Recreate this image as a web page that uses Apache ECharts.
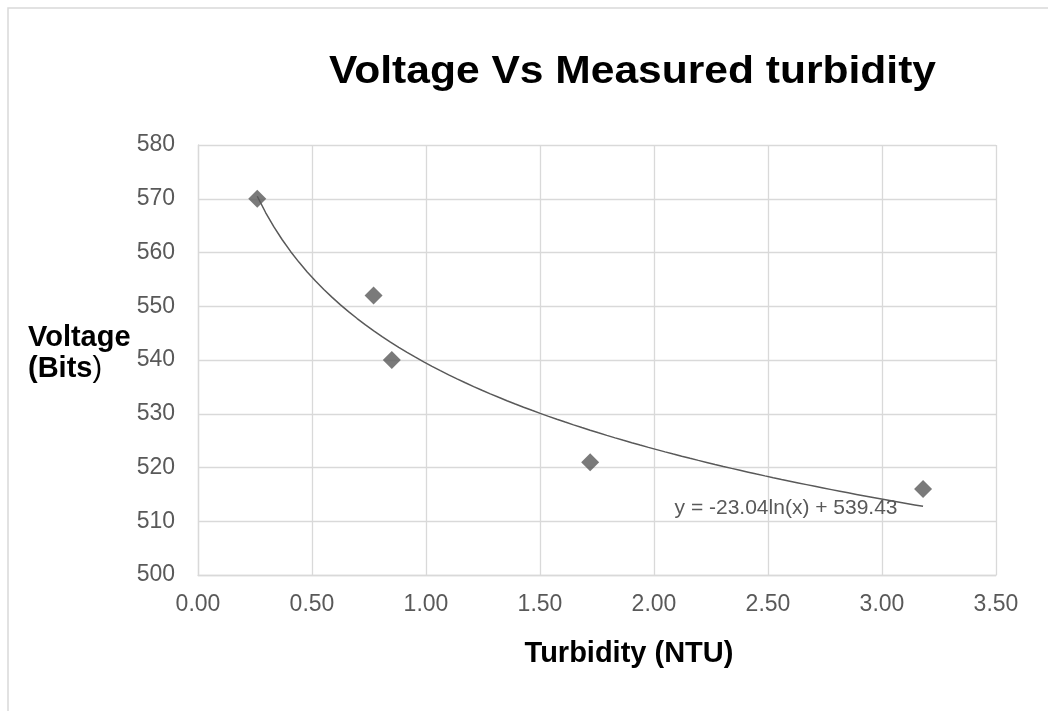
<!DOCTYPE html>
<html>
<head>
<meta charset="utf-8">
<title>Voltage Vs Measured turbidity</title>
<script src="https://cdn.jsdelivr.net/npm/echarts@6/dist/echarts.min.js"></script>
<style>
  html, body { margin: 0; padding: 0; background: #fff; }
  #chart { width: 1048px; height: 711px; }
</style>
</head>
<body>
<div id="chart"></div>
<script>
// measured points
var turbidity = [0.26, 0.77, 0.85, 1.72, 3.18]
var voltage = [570, 552, 540, 521, 516]

// log trendline as printed on the chart: y = -23.04ln(x) + 539.43
var trendA = -23.04
var trendB = 539.43
var trendLabel = 'y = -23.04ln(x) + 539.43'

var xTicks = { min: 0, max: 3.5, step: 0.5 }
var yTicks = { min: 500, max: 580, step: 10 }

var grey = '#595959'
var gridGrey = '#d9d9d9'
var font = '"Liberation Sans", Arial, sans-serif'

var points = turbidity.map(function (x, i) { return [x, voltage[i]] })

// trendline drawn between the first and last measured x
var x0 = turbidity[0]
var x1 = turbidity[turbidity.length - 1]
var trend = []
for (var i = 0; i <= 80; i++) {
  var x = x0 + (x1 - x0) * i / 80
  trend.push([x, trendA * Math.log(x) + trendB])
}

var chart = echarts.init(document.getElementById('chart'))
chart.setOption({
  backgroundColor: '#fff',
  animation: false,
  textStyle: { fontFamily: font },
  grid: { left: 198, right: 52, top: 145, bottom: 136 },
  xAxis: {
    type: 'value',
    min: xTicks.min,
    max: xTicks.max,
    interval: xTicks.step,
    axisLine: { show: true, lineStyle: { color: gridGrey, width: 1.3 } },
    axisTick: { show: false },
    splitLine: { show: true, lineStyle: { color: gridGrey, width: 1.3 } },
    axisLabel: {
      color: grey,
      fontSize: 23,
      margin: 18,
      formatter: function (v) { return v.toFixed(2) }
    }
  },
  yAxis: {
    type: 'value',
    min: yTicks.min,
    max: yTicks.max,
    interval: yTicks.step,
    axisLine: { show: true, lineStyle: { color: gridGrey, width: 1.3 } },
    axisTick: { show: false },
    splitLine: { show: true, lineStyle: { color: gridGrey, width: 1.3 } },
    axisLabel: { color: grey, fontSize: 23, margin: 23 }
  },
  graphic: [
    {
      // outer chart-area border (only top and left are inside the picture)
      type: 'rect',
      shape: { x: 8, y: 8, width: 1200, height: 900 },
      style: { fill: 'none', stroke: gridGrey, lineWidth: 1.5 },
      silent: true
    },
    {
      type: 'text',
      x: 632.5,
      y: 73,
      scaleX: 1.12,
      style: {
        text: 'Voltage Vs Measured turbidity',
        x: 0,
        y: 0,
        textAlign: 'center',
        textVerticalAlign: 'middle',
        font: 'bold 38px ' + font,
        fill: '#000'
      }
    },
    {
      type: 'text',
      x: 629,
      y: 654,
      style: {
        text: 'Turbidity (NTU)',
        textAlign: 'center',
        textVerticalAlign: 'middle',
        font: 'bold 29px ' + font,
        fill: '#000'
      }
    },
    {
      type: 'text',
      left: 28,
      top: 323,
      style: {
        text: '{b|Voltage}\n{b|(Bits}{n|)}',
        fill: '#000',
        rich: {
          b: { fontFamily: font, fontSize: 29, fontWeight: 'bold', lineHeight: 31, fill: '#000' },
          n: { fontFamily: font, fontSize: 29, fontWeight: 'normal', lineHeight: 31, fill: '#000' }
        }
      }
    }
  ],
  series: [
    {
      name: 'trend',
      type: 'line',
      data: trend,
      showSymbol: false,
      lineStyle: { color: grey, width: 1.5 },
      z: 2,
      markPoint: {
        symbol: 'circle',
        symbolSize: 1,
        itemStyle: { color: 'rgba(0,0,0,0)' },
        data: [{ coord: trend[trend.length - 1] }],
        label: {
          show: true,
          position: 'left',
          distance: 25,
          offset: [0, 2],
          color: grey,
          fontSize: 21,
          fontFamily: font,
          formatter: trendLabel
        }
      }
    },
    {
      name: 'measured',
      type: 'scatter',
      data: points,
      symbol: 'diamond',
      symbolSize: [18, 18],
      itemStyle: { color: grey },
      z: 3
    }
  ]
})
</script>
</body>
</html>
